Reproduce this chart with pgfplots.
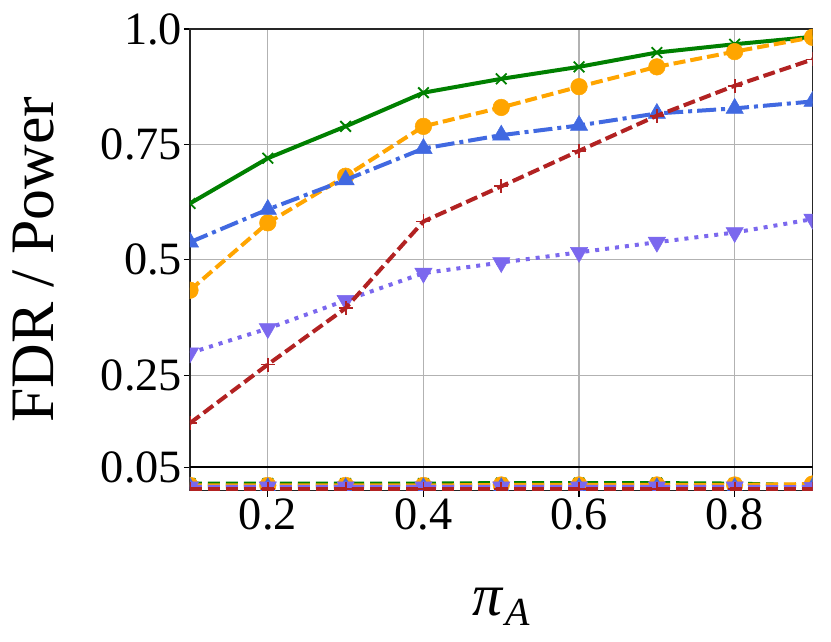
\documentclass[border=0pt]{standalone}
\usepackage{fontspec}
\setmainfont{Liberation Serif}
\usepackage{pgfplots}
\pgfplotsset{compat=1.18}
\definecolor{cgreen}{RGB}{0,128,0}
\definecolor{corange}{RGB}{255,165,0}
\definecolor{cblue}{RGB}{65,105,225}
\definecolor{cred}{RGB}{178,34,34}
\definecolor{cpurple}{RGB}{123,104,238}
\begin{document}
\begin{tikzpicture}
\begin{axis}[
  scale only axis, width=622.5bp, height=461.5bp,
  xmin=0.1, xmax=0.9, ymin=0, ymax=1,
  xtick={0.2,0.4,0.6,0.8},
  xticklabels={0.2,0.4,0.6,0.8},
  ytick={0.05,0.25,0.5,0.75,1.0},
  yticklabels={0.05,0.25,0.5,0.75,1.0},
  xtick pos=bottom, ytick pos=left,
  tick align=outside, major tick length=6bp,
  every tick/.style={black, line width=1.2bp},
  grid=major, major grid style={black!30, line width=1.2bp},
  axis line style={black!85, line width=1.5bp},
  /pgf/number format/assume math mode=true,
  tick label style={font=\fontsize{46.5}{46.5}\selectfont},
  yticklabel style={inner sep=0pt, anchor=east},
  xticklabel style={inner sep=0pt, anchor=north},
  ylabel={FDR / Power},
  ylabel style={font=\fontsize{62}{62}\selectfont, at={(axis description cs:-0.219,0.5)}, anchor=base, inner sep=0pt},
  xlabel={\fontsize{60}{60}\selectfont\textit{π}\hspace{2bp}\raisebox{-10bp}{\fontsize{40}{40}\selectfont\textit{A}}},
  xlabel style={at={(axis description cs:0.5,-0.27)}, anchor=base, inner sep=0pt},
  clip marker paths=true,
  line width=4bp,
]
% power curves
\addplot[cgreen, solid, mark=x, mark size=7.5bp, mark options={solid, line width=1.8bp}]
  coordinates {(0.1,0.622) (0.2,0.720) (0.3,0.789) (0.4,0.862) (0.5,0.892) (0.6,0.918) (0.7,0.949) (0.8,0.967) (0.9,0.983)};
\addplot[corange, dash pattern=on 12bp off 5bp, mark=*, mark size=8.3bp, mark options={solid, fill=corange, draw=corange, line width=0.5bp}]
  coordinates {(0.1,0.434) (0.2,0.580) (0.3,0.681) (0.4,0.789) (0.5,0.830) (0.6,0.875) (0.7,0.918) (0.8,0.951) (0.9,0.982)};
\addplot[cblue, dash pattern=on 19bp off 5bp on 4bp off 5bp, mark=triangle*, mark size=10bp, mark options={solid, fill=cblue, draw=cblue, line width=0.5bp}]
  coordinates {(0.1,0.538) (0.2,0.609) (0.3,0.673) (0.4,0.741) (0.5,0.770) (0.6,0.791) (0.7,0.817) (0.8,0.828) (0.9,0.843)};
\addplot[cpurple, dash pattern=on 4bp off 6bp, mark=triangle*, mark size=10bp, mark options={solid, rotate=180, fill=cpurple, draw=cpurple, line width=0.5bp}]
  coordinates {(0.1,0.298) (0.2,0.351) (0.3,0.412) (0.4,0.471) (0.5,0.494) (0.6,0.516) (0.7,0.538) (0.8,0.559) (0.9,0.588)};
\addplot[cred, dash pattern=on 12bp off 5bp, mark=+, mark size=7bp, mark options={solid, line width=1.8bp}]
  coordinates {(0.1,0.146) (0.2,0.273) (0.3,0.395) (0.4,0.583) (0.5,0.659) (0.6,0.736) (0.7,0.812) (0.8,0.877) (0.9,0.934)};
% FDR curves
\addplot[cgreen, dash pattern=on 12bp off 6bp, mark=x, mark size=7.5bp, mark options={solid, line width=1.8bp}]
  coordinates {(0.1,0.015) (0.2,0.015) (0.3,0.015) (0.4,0.015) (0.5,0.016) (0.6,0.016) (0.7,0.016) (0.8,0.015) (0.9,0.011)};
\addplot[corange, dash pattern=on 12bp off 6bp, mark=*, mark size=8.3bp, mark options={solid, fill=corange, draw=corange, line width=0.5bp}]
  coordinates {(0.1,0.011) (0.2,0.011) (0.3,0.011) (0.4,0.011) (0.5,0.012) (0.6,0.012) (0.7,0.012) (0.8,0.012) (0.9,0.014)};
\addplot[cblue, dash pattern=on 12bp off 6bp, mark=triangle*, mark size=10bp, mark options={solid, fill=cblue, draw=cblue, line width=0.5bp}]
  coordinates {(0.1,0.006) (0.2,0.006) (0.3,0.006) (0.4,0.006) (0.5,0.006) (0.6,0.006) (0.7,0.006) (0.8,0.006) (0.9,0.006)};
\addplot[cpurple, dash pattern=on 12bp off 6bp, mark=triangle*, mark size=10bp, mark options={solid, rotate=180, fill=cpurple, draw=cpurple, line width=0.5bp}]
  coordinates {(0.1,0.008) (0.2,0.008) (0.3,0.008) (0.4,0.008) (0.5,0.008) (0.6,0.008) (0.7,0.008) (0.8,0.008) (0.9,0.007)};
\addplot[cred, dash pattern=on 12bp off 6bp, mark=+, mark size=7bp, mark options={solid, line width=1.8bp}]
  coordinates {(0.1,0.004) (0.2,0.004) (0.3,0.004) (0.4,0.004) (0.5,0.004) (0.6,0.004) (0.7,0.004) (0.8,0.004) (0.9,0.004)};
% alpha level
\addplot[black, solid, line width=2bp, no marks] coordinates {(0.1,0.05) (0.9,0.05)};
\end{axis}
\pgfresetboundingbox
\path ([shift={(-190bp,-151.5bp)}]current axis.south west) rectangle ++(831bp,642bp);
\end{tikzpicture}
\end{document}
